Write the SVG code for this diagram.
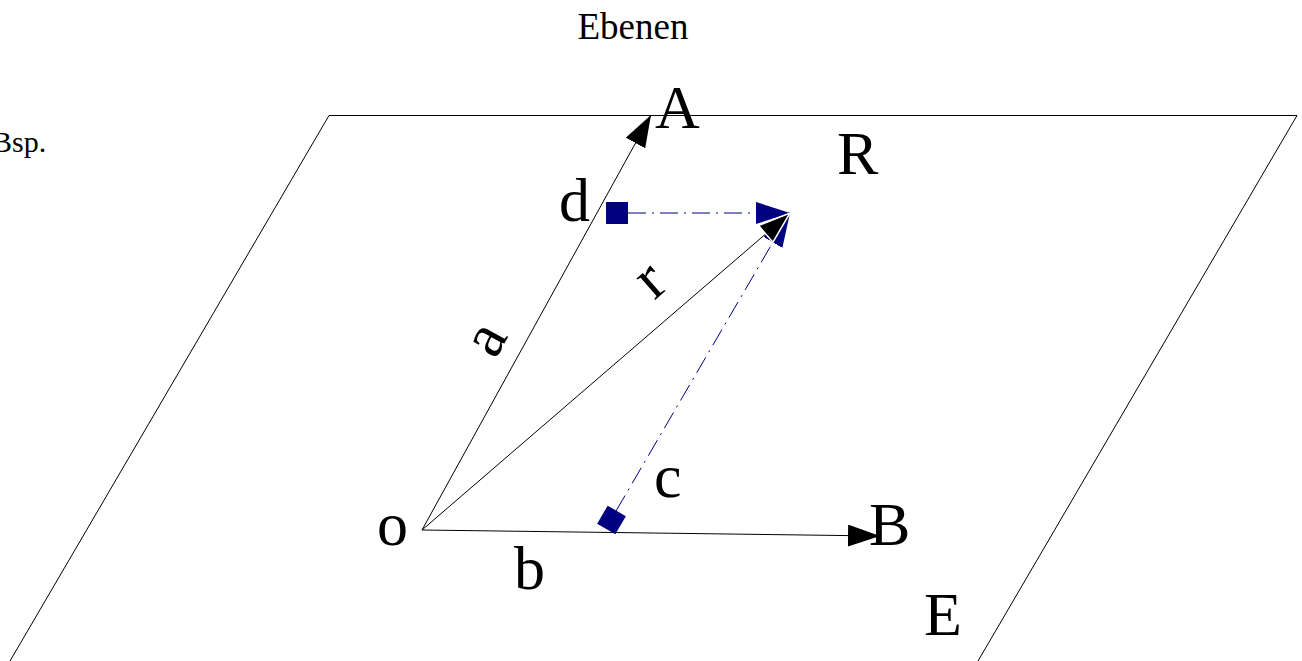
<svg xmlns="http://www.w3.org/2000/svg" width="1302" height="661" viewBox="0 0 1302 661">
<style>
text{font-family:"Liberation Serif","Times New Roman",serif;fill:#000}
.big{font-size:62px}
.edge{fill:none;stroke:#000;stroke-width:1}
.proj{fill:none;stroke:#000080;stroke-width:1;stroke-dasharray:18 6 2 6}
</style>
<defs>
<marker id="ab" viewBox="0 0 32 22" refX="32" refY="11" markerWidth="32" markerHeight="22" markerUnits="userSpaceOnUse" orient="auto">
<path d="M0,0 L32,11 L0,22 z" fill="#000"/>
</marker>
<marker id="abw" viewBox="-2 -2 36 26" refX="32" refY="11" markerWidth="36" markerHeight="26" markerUnits="userSpaceOnUse" orient="auto">
<path d="M0,0 L32,11 L0,22 z" fill="#000" stroke="#fff" stroke-width="1.5"/>
</marker>
<marker id="ablue" viewBox="0 0 34 22" refX="34" refY="11" markerWidth="34" markerHeight="22" markerUnits="userSpaceOnUse" orient="auto">
<path d="M0,0 L34,11 L0,22 z" fill="#000080"/>
</marker>
</defs>
<g id="title"><text x="633" y="39" font-size="37" text-anchor="middle">Ebenen</text></g>
<g id="bsp"><text x="-8" y="152" font-size="30">Bsp.</text></g>
<g id="plane-E">
<path class="edge" d="M10,661 L329,115.5 L1297,115.5 L978,661"/>
<text class="big" x="924" y="635">E</text>
</g>
<g id="connectors">
<line class="proj" x1="628" y1="213" x2="790" y2="213" marker-end="url(#ablue)"/>
<line class="proj" x1="616" y1="511" x2="790" y2="213" marker-end="url(#ablue)"/>
<line class="edge" x1="422" y1="530" x2="651" y2="115" marker-end="url(#ab)"/>
<line class="edge" x1="422" y1="530" x2="880" y2="536" marker-end="url(#ab)"/>
<line class="edge" x1="422" y1="530" x2="790" y2="213" marker-end="url(#abw)"/>
</g>
<g id="node-o"><text class="big" x="377" y="545">o</text></g>
<g id="node-A"><text class="big" x="655" y="128">A</text></g>
<g id="node-B"><text class="big" x="869" y="545">B</text></g>
<g id="node-R"><text class="big" x="837" y="174">R</text></g>
<g id="node-d">
<rect x="606" y="202" width="22" height="22" fill="#000080"/>
<text class="big" x="559" y="221">d</text>
</g>
<g id="node-c">
<rect x="-10.5" y="-10.5" width="21" height="21" fill="#000080" transform="translate(611.5,520) rotate(30)"/>
<text class="big" x="654" y="497">c</text>
</g>
<g id="labels">
<text class="big" text-anchor="middle" transform="translate(502,348) rotate(-61)">a</text>
<text class="big" text-anchor="middle" transform="translate(662,294) rotate(-41)">r</text>
<text class="big" x="514" y="589">b</text>
</g>
</svg>
